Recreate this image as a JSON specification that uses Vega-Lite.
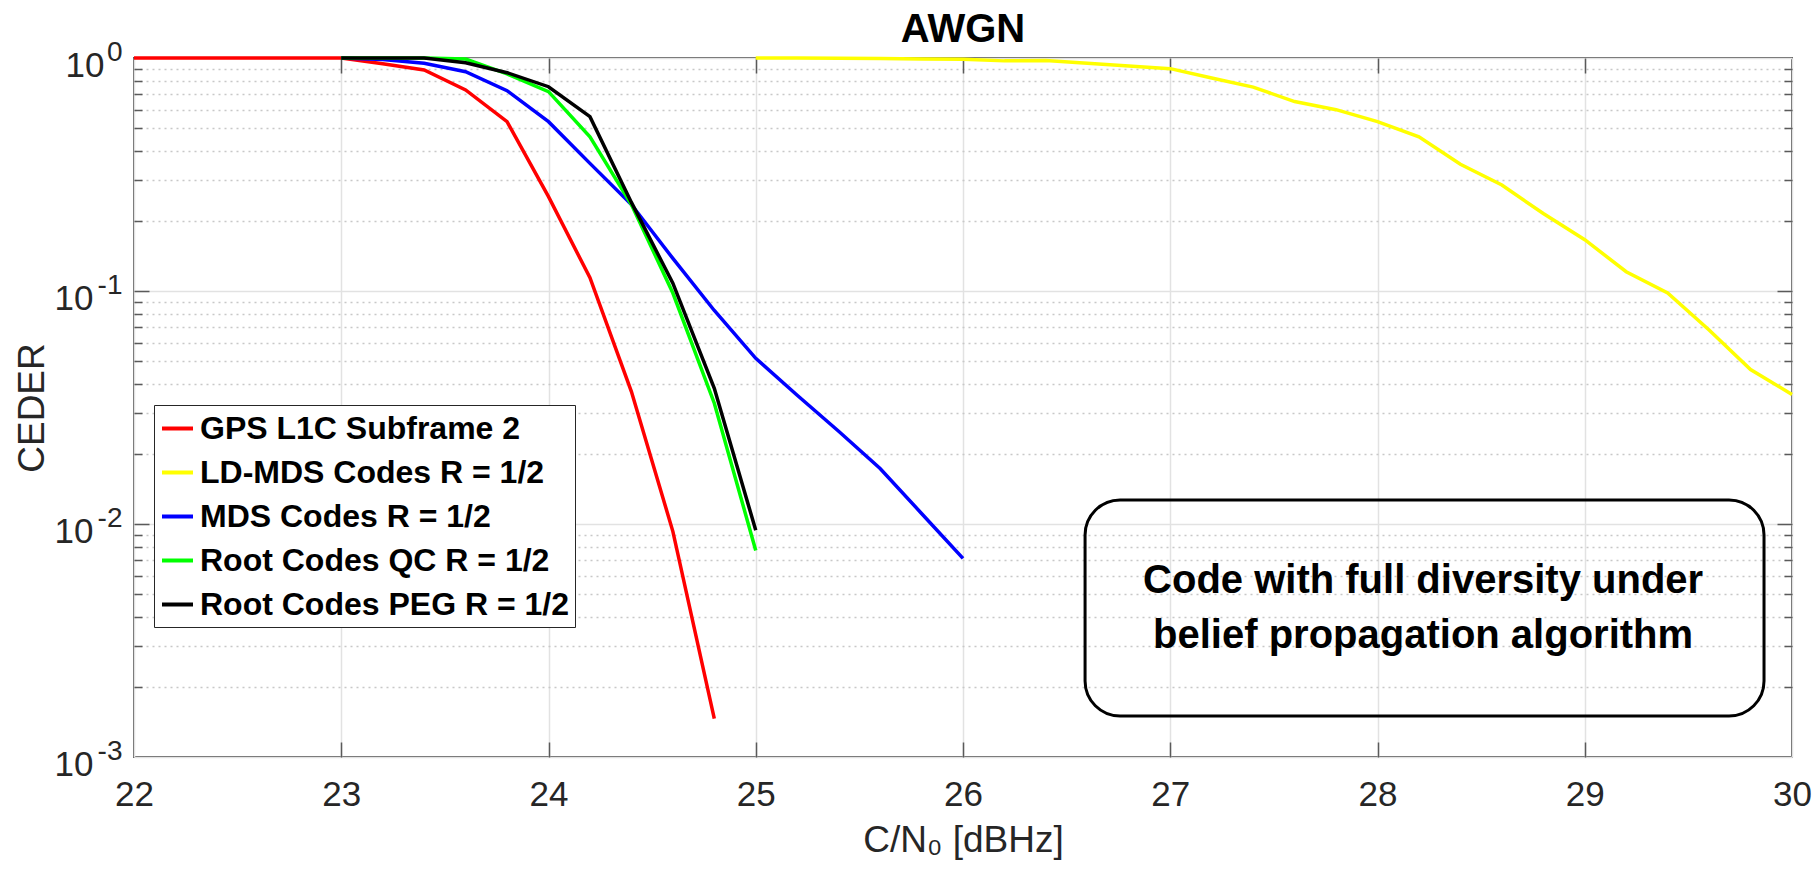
{
  "$schema": "https://vega.github.io/schema/vega-lite/v6.json",
  "width": 1658,
  "height": 699,
  "autosize": {"type": "none"},
  "padding": {"left": 134, "top": 58, "right": 24, "bottom": 116},
  "background": "white",
  "title": {"text": "AWGN", "font": "Liberation Sans", "fontSize": 40, "fontWeight": "bold", "color": "black", "anchor": "middle", "frame": "group", "baseline": "alphabetic", "offset": 16, "dx": 0, "dy": 60},
  "config": {"view": {"stroke": "#5a5a5a", "strokeWidth": 2}, "font": "Liberation Sans"},
  "data": {"values": [
    {"code": "GPS L1C Subframe 2", "snr": 22.0, "ceder": 1},
    {"code": "GPS L1C Subframe 2", "snr": 22.2, "ceder": 1},
    {"code": "GPS L1C Subframe 2", "snr": 22.4, "ceder": 1},
    {"code": "GPS L1C Subframe 2", "snr": 22.6, "ceder": 1},
    {"code": "GPS L1C Subframe 2", "snr": 22.8, "ceder": 1},
    {"code": "GPS L1C Subframe 2", "snr": 23.0, "ceder": 1},
    {"code": "GPS L1C Subframe 2", "snr": 23.2, "ceder": 0.945},
    {"code": "GPS L1C Subframe 2", "snr": 23.4, "ceder": 0.888},
    {"code": "GPS L1C Subframe 2", "snr": 23.6, "ceder": 0.729},
    {"code": "GPS L1C Subframe 2", "snr": 23.8, "ceder": 0.533},
    {"code": "GPS L1C Subframe 2", "snr": 24.0, "ceder": 0.254},
    {"code": "GPS L1C Subframe 2", "snr": 24.2, "ceder": 0.114},
    {"code": "GPS L1C Subframe 2", "snr": 24.4, "ceder": 0.037},
    {"code": "GPS L1C Subframe 2", "snr": 24.6, "ceder": 0.0093},
    {"code": "GPS L1C Subframe 2", "snr": 24.8, "ceder": 0.00146},
    {"code": "LD-MDS Codes R = 1/2", "snr": 25.0, "ceder": 1},
    {"code": "LD-MDS Codes R = 1/2", "snr": 25.2, "ceder": 1},
    {"code": "LD-MDS Codes R = 1/2", "snr": 25.4, "ceder": 0.998},
    {"code": "LD-MDS Codes R = 1/2", "snr": 25.6, "ceder": 0.995},
    {"code": "LD-MDS Codes R = 1/2", "snr": 25.8, "ceder": 0.99},
    {"code": "LD-MDS Codes R = 1/2", "snr": 26.0, "ceder": 0.987},
    {"code": "LD-MDS Codes R = 1/2", "snr": 26.2, "ceder": 0.972},
    {"code": "LD-MDS Codes R = 1/2", "snr": 26.4, "ceder": 0.975},
    {"code": "LD-MDS Codes R = 1/2", "snr": 26.6, "ceder": 0.95},
    {"code": "LD-MDS Codes R = 1/2", "snr": 26.8, "ceder": 0.924},
    {"code": "LD-MDS Codes R = 1/2", "snr": 27.0, "ceder": 0.9},
    {"code": "LD-MDS Codes R = 1/2", "snr": 27.2, "ceder": 0.82},
    {"code": "LD-MDS Codes R = 1/2", "snr": 27.4, "ceder": 0.75},
    {"code": "LD-MDS Codes R = 1/2", "snr": 27.6, "ceder": 0.65},
    {"code": "LD-MDS Codes R = 1/2", "snr": 27.8, "ceder": 0.6},
    {"code": "LD-MDS Codes R = 1/2", "snr": 28.0, "ceder": 0.533},
    {"code": "LD-MDS Codes R = 1/2", "snr": 28.2, "ceder": 0.459},
    {"code": "LD-MDS Codes R = 1/2", "snr": 28.4, "ceder": 0.35},
    {"code": "LD-MDS Codes R = 1/2", "snr": 28.6, "ceder": 0.285},
    {"code": "LD-MDS Codes R = 1/2", "snr": 28.8, "ceder": 0.215},
    {"code": "LD-MDS Codes R = 1/2", "snr": 29.0, "ceder": 0.166},
    {"code": "LD-MDS Codes R = 1/2", "snr": 29.2, "ceder": 0.121},
    {"code": "LD-MDS Codes R = 1/2", "snr": 29.4, "ceder": 0.098},
    {"code": "LD-MDS Codes R = 1/2", "snr": 29.6, "ceder": 0.068},
    {"code": "LD-MDS Codes R = 1/2", "snr": 29.8, "ceder": 0.046},
    {"code": "LD-MDS Codes R = 1/2", "snr": 30.0, "ceder": 0.036},
    {"code": "MDS Codes R = 1/2", "snr": 23.0, "ceder": 1},
    {"code": "MDS Codes R = 1/2", "snr": 23.2, "ceder": 0.985},
    {"code": "MDS Codes R = 1/2", "snr": 23.4, "ceder": 0.949},
    {"code": "MDS Codes R = 1/2", "snr": 23.6, "ceder": 0.873},
    {"code": "MDS Codes R = 1/2", "snr": 23.8, "ceder": 0.724},
    {"code": "MDS Codes R = 1/2", "snr": 24.0, "ceder": 0.533},
    {"code": "MDS Codes R = 1/2", "snr": 24.2, "ceder": 0.353},
    {"code": "MDS Codes R = 1/2", "snr": 24.4, "ceder": 0.235},
    {"code": "MDS Codes R = 1/2", "snr": 24.6, "ceder": 0.138},
    {"code": "MDS Codes R = 1/2", "snr": 24.8, "ceder": 0.0825},
    {"code": "MDS Codes R = 1/2", "snr": 25.0, "ceder": 0.0514},
    {"code": "MDS Codes R = 1/2", "snr": 25.2, "ceder": 0.0357},
    {"code": "MDS Codes R = 1/2", "snr": 25.4, "ceder": 0.025},
    {"code": "MDS Codes R = 1/2", "snr": 25.6, "ceder": 0.0173},
    {"code": "MDS Codes R = 1/2", "snr": 25.8, "ceder": 0.0111},
    {"code": "MDS Codes R = 1/2", "snr": 26.0, "ceder": 0.00712},
    {"code": "Root Codes QC R = 1/2", "snr": 23.0, "ceder": 1},
    {"code": "Root Codes QC R = 1/2", "snr": 23.2, "ceder": 1},
    {"code": "Root Codes QC R = 1/2", "snr": 23.4, "ceder": 1},
    {"code": "Root Codes QC R = 1/2", "snr": 23.6, "ceder": 0.99},
    {"code": "Root Codes QC R = 1/2", "snr": 23.8, "ceder": 0.854},
    {"code": "Root Codes QC R = 1/2", "snr": 24.0, "ceder": 0.717},
    {"code": "Root Codes QC R = 1/2", "snr": 24.2, "ceder": 0.459},
    {"code": "Root Codes QC R = 1/2", "snr": 24.4, "ceder": 0.235},
    {"code": "Root Codes QC R = 1/2", "snr": 24.6, "ceder": 0.098},
    {"code": "Root Codes QC R = 1/2", "snr": 24.8, "ceder": 0.033},
    {"code": "Root Codes QC R = 1/2", "snr": 25.0, "ceder": 0.0077},
    {"code": "Root Codes PEG R = 1/2", "snr": 23.0, "ceder": 1},
    {"code": "Root Codes PEG R = 1/2", "snr": 23.2, "ceder": 1},
    {"code": "Root Codes PEG R = 1/2", "snr": 23.4, "ceder": 1},
    {"code": "Root Codes PEG R = 1/2", "snr": 23.6, "ceder": 0.954},
    {"code": "Root Codes PEG R = 1/2", "snr": 23.8, "ceder": 0.865},
    {"code": "Root Codes PEG R = 1/2", "snr": 24.0, "ceder": 0.753},
    {"code": "Root Codes PEG R = 1/2", "snr": 24.2, "ceder": 0.56},
    {"code": "Root Codes PEG R = 1/2", "snr": 24.4, "ceder": 0.24},
    {"code": "Root Codes PEG R = 1/2", "snr": 24.6, "ceder": 0.108},
    {"code": "Root Codes PEG R = 1/2", "snr": 24.8, "ceder": 0.0382},
    {"code": "Root Codes PEG R = 1/2", "snr": 25.0, "ceder": 0.0094}
  ]},
  "resolve": {"axis": {"x": "independent", "y": "independent"}},
  "layer": [
    {
      "mark": {"type": "point", "opacity": 0, "size": 1},
      "encoding": {
        "x": {"field": "snr", "type": "quantitative", "scale": {"domain": [22, 30], "nice": false, "zero": false},
          "axis": {"orient": "top", "values": [23, 24, 25, 26, 27, 28, 29], "labels": false, "domain": false, "grid": false, "title": null, "ticks": true, "tickSize": -15, "tickColor": "#5a5a5a", "tickWidth": 1.5}},
        "y": {"field": "ceder", "type": "quantitative", "scale": {"type": "log", "domain": [0.001, 1], "nice": false},
          "axis": {"orient": "left", "values": [0.002, 0.003, 0.004, 0.005, 0.006, 0.007, 0.008, 0.009, 0.02, 0.03, 0.04, 0.05, 0.06, 0.07, 0.08, 0.09, 0.2, 0.3, 0.4, 0.5, 0.6, 0.7, 0.8, 0.9], "labels": false, "domain": false, "title": null, "grid": true, "gridColor": "#c8c8c8", "gridDash": [2, 4], "gridWidth": 1.5, "ticks": true, "tickSize": -8, "tickColor": "#5a5a5a", "tickWidth": 1.5}}
      }
    },
    {
      "mark": {"type": "point", "opacity": 0, "size": 1},
      "encoding": {
        "x": {"field": "snr", "type": "quantitative",
          "axis": {"orient": "bottom", "values": [23, 24, 25, 26, 27, 28, 29], "labels": false, "domain": false, "grid": false, "title": null, "ticks": true, "tickSize": -15, "tickColor": "#5a5a5a", "tickWidth": 1.5}},
        "y": {"field": "ceder", "type": "quantitative",
          "axis": {"orient": "right", "values": [0.002, 0.003, 0.004, 0.005, 0.006, 0.007, 0.008, 0.009, 0.02, 0.03, 0.04, 0.05, 0.06, 0.07, 0.08, 0.09, 0.2, 0.3, 0.4, 0.5, 0.6, 0.7, 0.8, 0.9], "labels": false, "domain": false, "title": null, "grid": false, "ticks": true, "tickSize": -8, "tickColor": "#5a5a5a", "tickWidth": 1.5}}
      }
    },
    {
      "mark": {"type": "point", "opacity": 0, "size": 1},
      "encoding": {
        "x": {"field": "snr", "type": "quantitative", "axis": null},
        "y": {"field": "ceder", "type": "quantitative",
          "axis": {"orient": "right", "values": [0.1, 0.01], "labels": false, "domain": false, "title": null, "grid": false, "ticks": true, "tickSize": -15, "tickColor": "#5a5a5a", "tickWidth": 1.5}}
      }
    },
    {
      "mark": {"type": "point", "opacity": 0, "size": 1},
      "encoding": {
        "x": {"field": "snr", "type": "quantitative", "axis": null},
        "y": {"field": "ceder", "type": "quantitative",
          "axis": {"orient": "left", "values": [0.1, 0.01], "labels": false, "domain": false, "title": null, "grid": false, "ticks": true, "tickSize": -15, "tickColor": "#5a5a5a", "tickWidth": 1.5}}
      }
    },
    {
      "mark": {"type": "point", "opacity": 0, "size": 1},
      "encoding": {
        "x": {"field": "snr", "type": "quantitative", "axis": null},
        "y": {"field": "ceder", "type": "quantitative",
          "axis": {"orient": "left", "values": [1, 0.1, 0.01, 0.001], "labelExpr": "datum.value >= 1 ? '0' : datum.value >= 0.1 ? '-1' : datum.value >= 0.01 ? '-2' : '-3'", "labelAlign": "right", "labelBaseline": "middle", "labelPadding": 12, "labelOffset": -6, "labelFont": "Liberation Sans", "labelFontSize": 28, "labelColor": "#262626", "ticks": false, "tickSize": 0, "domain": false, "grid": false, "title": null}}
      }
    },
    {
      "mark": {"type": "line", "strokeWidth": 3.5},
      "encoding": {
        "x": {"field": "snr", "type": "quantitative",
          "axis": {"orient": "bottom", "values": [22, 23, 24, 25, 26, 27, 28, 29, 30], "format": "d", "labelFont": "Liberation Sans", "labelFontSize": 35, "labelColor": "#262626", "labelPadding": 20, "labelBaseline": "top", "labelFlush": false, "labelOverlap": false, "ticks": false, "tickSize": 0, "domain": false, "grid": true, "gridColor": "#e2e2e2", "gridWidth": 1.5,
            "title": "C/N₀ [dBHz]", "titleFont": "Liberation Sans", "titleFontSize": 37, "titleFontWeight": "normal", "titleColor": "#262626", "titleY": 83, "titleBaseline": "middle"}},
        "y": {"field": "ceder", "type": "quantitative",
          "axis": {"orient": "left", "values": [1, 0.1, 0.01, 0.001], "labelExpr": "'10'", "labelAlign": "right", "labelBaseline": "middle", "labelOffset": 7, "labelPadding": {"condition": {"test": "datum.value >= 1", "value": 30}, "value": 41}, "labelFont": "Liberation Sans", "labelFontSize": 35, "labelColor": "#262626", "ticks": false, "tickSize": 0, "domain": false, "grid": true, "gridColor": "#e2e2e2", "gridWidth": 1.5,
            "title": "CEDER", "titleFont": "Liberation Sans", "titleFontSize": 37, "titleFontWeight": "normal", "titleColor": "#262626", "titleX": -102, "titleY": 349.5, "titleAngle": 270, "titleAlign": "center", "titleBaseline": "middle"}},
        "color": {"field": "code", "type": "nominal",
          "scale": {"domain": ["GPS L1C Subframe 2", "LD-MDS Codes R = 1/2", "MDS Codes R = 1/2", "Root Codes QC R = 1/2", "Root Codes PEG R = 1/2"], "range": ["#ff0000", "#ffff00", "#0000ff", "#00ff00", "#000000"]},
          "legend": {"orient": "none", "legendX": 20, "legendY": 347, "title": null, "symbolType": "stroke", "symbolStrokeWidth": 4, "symbolSize": 961, "labelFont": "Liberation Sans", "labelFontWeight": "bold", "labelFontSize": 32, "labelColor": "black", "labelOffset": 5, "labelLimit": 600, "rowPadding": 10, "padding": 6, "strokeColor": "#262626", "fillColor": "white"}}
      }
    },
    {
      "data": {"values": [{}]},
      "mark": {"type": "rect", "cornerRadius": 35, "stroke": "black", "strokeWidth": 3, "fill": "white", "fillOpacity": 0},
      "encoding": {
        "x": {"datum": 26.589, "type": "quantitative", "axis": null},
        "x2": {"datum": 29.865},
        "y": {"datum": 0.01268, "type": "quantitative", "axis": null},
        "y2": {"datum": 0.0015}
      }
    },
    {
      "data": {"values": [{}]},
      "mark": {"type": "text", "font": "Liberation Sans", "fontSize": 40, "fontWeight": "bold", "color": "black", "align": "center", "baseline": "alphabetic", "text": "Code with full diversity under"},
      "encoding": {
        "x": {"datum": 28.22, "type": "quantitative", "axis": null},
        "y": {"datum": 0.00506, "type": "quantitative", "axis": null}
      }
    },
    {
      "data": {"values": [{}]},
      "mark": {"type": "text", "font": "Liberation Sans", "fontSize": 40, "fontWeight": "bold", "color": "black", "align": "center", "baseline": "alphabetic", "text": "belief propagation algorithm"},
      "encoding": {
        "x": {"datum": 28.22, "type": "quantitative", "axis": null},
        "y": {"datum": 0.00294, "type": "quantitative", "axis": null}
      }
    }
  ]
}
